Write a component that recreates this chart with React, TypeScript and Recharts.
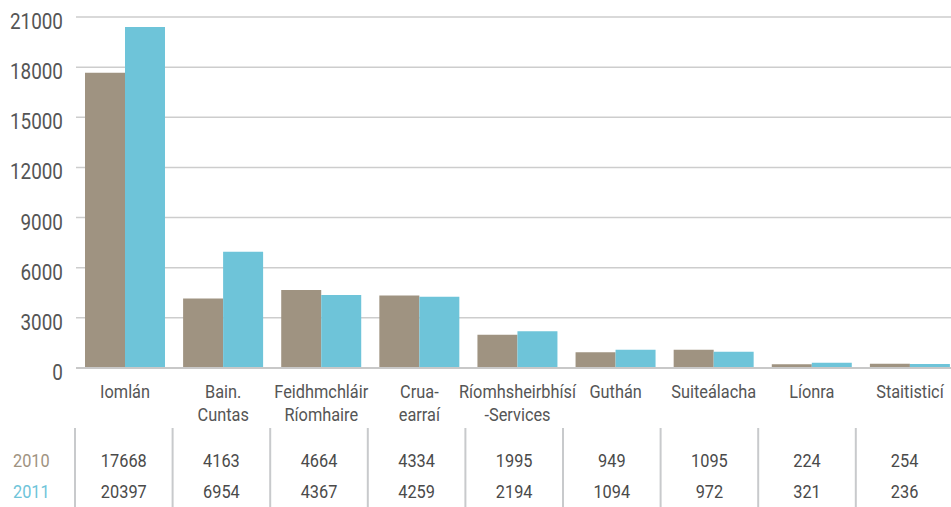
import React from "react";
import { BarChart, Bar, XAxis, YAxis, CartesianGrid } from "recharts";

const categories = [
  ["Iomlán"],
  ["Bain.", "Cuntas"],
  ["Feidhmchláir", "Ríomhaire"],
  ["Crua-", "earraí"],
  ["Ríomhsheirbhísí", "-Services"],
  ["Guthán"],
  ["Suiteálacha"],
  ["Líonra"],
  ["Staitisticí"],
];
const values2010 = [17668, 4163, 4664, 4334, 1995, 949, 1095, 224, 254];
const values2011 = [20397, 6954, 4367, 4259, 2194, 1094, 972, 321, 236];
const yTicks = [0, 3000, 6000, 9000, 12000, 15000, 18000, 21000];

const data = categories.map((c, i) => ({
  name: c.join(" "),
  y2010: values2010[i],
  y2011: values2011[i],
}));

const FONT = "Roboto, sans-serif";
const C2010 = "#9f9381";
const C2011 = "#6ec4d9";
const VIEW_W = 951;
const W = 959; // plot runs slightly past the right edge, as in the source
const H = 507;
const LEFT = 76;
const TABLE_X = 75;
const TABLE_COL = 97.6;
const SQUEEZE = 0.86; // condensed look

// narrow text: Roboto squeezed horizontally
function NText({ x, y, anchor = "middle", fill, size, children }: any) {
  return (
    <text
      transform={`translate(${x},${y}) scale(${SQUEEZE},1)`}
      textAnchor={anchor}
      fill={fill}
      fontSize={size}
      fontFamily={FONT}
    >
      {children}
    </text>
  );
}

function CategoryTick(props: any) {
  const { x, y, index } = props;
  const lines = categories[index] || [];
  const left = TABLE_X + TABLE_COL * index;
  const mid = left + TABLE_COL / 2;
  return (
    <g>
      {lines.map((l, k) => (
        <NText key={k} x={x} y={y + 30 + k * 23} fill="#555" size={19}>
          {l}
        </NText>
      ))}
      <line x1={left} x2={left} y1={y + 60} y2={H} stroke="#c8cacc" strokeWidth={2} />
      <NText x={mid} y={y + 99} fill="#4a4a4a" size={19}>{values2010[index]}</NText>
      <NText x={mid} y={y + 130} fill="#4a4a4a" size={19}>{values2011[index]}</NText>
      {index === 0 && (
        <>
          <NText x={13} y={y + 99} anchor="start" fill={C2010} size={19}>2010</NText>
          <NText x={13} y={y + 130} anchor="start" fill={C2011} size={19}>2011</NText>
        </>
      )}
    </g>
  );
}

function ValueTick(props: any) {
  const { y, payload } = props;
  return (
    <NText x={63} y={y + 12} anchor="end" fill="#555" size={22}>
      {payload.value}
    </NText>
  );
}

export default function App() {
  return (
    <div
      style={{
        position: "absolute",
        left: 0,
        top: 0,
        width: VIEW_W,
        height: H,
        overflow: "hidden",
        background: "#fff",
      }}
    >
      <BarChart
        width={W}
        height={H}
        data={data}
        margin={{ top: 17, right: 0, bottom: 0, left: 0 }}
        barGap={0}
        barCategoryGap={9}
      >
        <CartesianGrid vertical={false} stroke="#cdcdcd" strokeWidth={1.5} />
        <XAxis
          dataKey="name"
          height={139}
          tickLine={false}
          axisLine={{ stroke: "#c8c8c8", strokeWidth: 2 }}
          tickSize={0}
          tickMargin={0}
          interval={0}
          tick={<CategoryTick />}
        />
        <YAxis
          width={LEFT}
          domain={[0, 21000]}
          ticks={yTicks}
          tickLine={false}
          axisLine={false}
          tickSize={0}
          tick={<ValueTick />}
        />
        <Bar dataKey="y2010" fill={C2010} isAnimationActive={false} />
        <Bar dataKey="y2011" fill={C2011} isAnimationActive={false} />
      </BarChart>
    </div>
  );
}
